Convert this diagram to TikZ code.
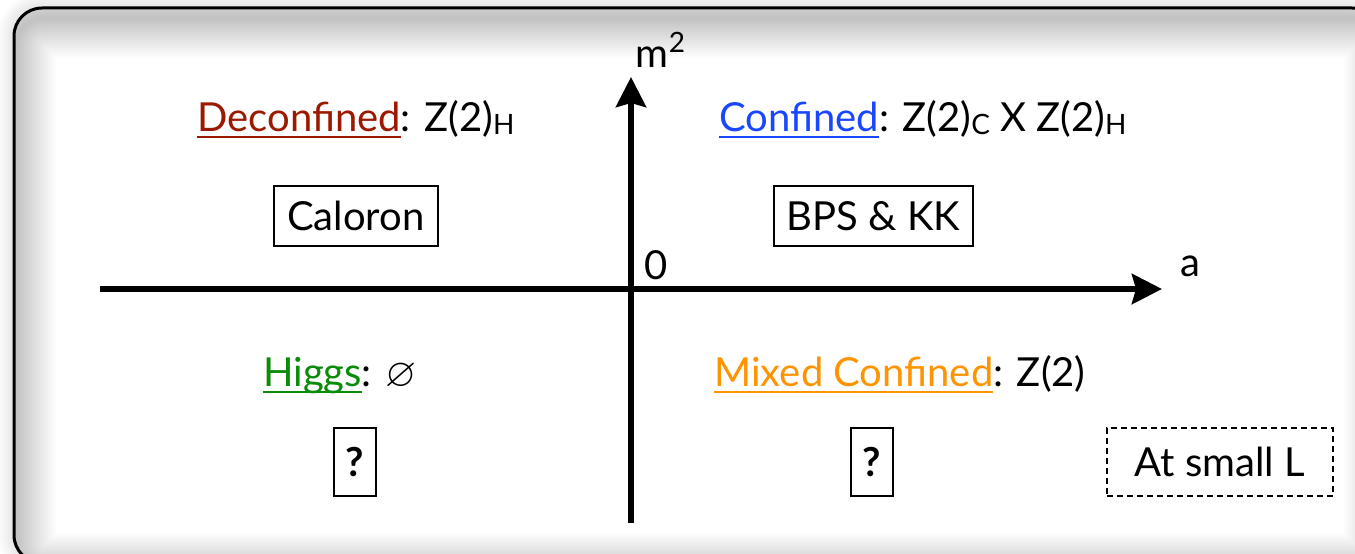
\documentclass[tikz,border=0pt]{standalone}
\usepackage{amssymb}
\usepackage{fontspec}
\setmainfont{Lato}
\usetikzlibrary{arrows.meta}

\definecolor{decred}{RGB}{155,25,0}
\definecolor{confblue}{RGB}{25,70,255}
\definecolor{higgsgreen}{RGB}{10,140,10}
\definecolor{mixorange}{RGB}{255,148,0}

% coloured, underlined phase name
\newsavebox{\phasebox}
\newcommand{\phase}[2]{\textcolor{#1}{\sbox{\phasebox}{#2}\rlap{\rule[-3.5pt]{\wd\phasebox}{1.2pt}}\usebox{\phasebox}}}
% lowered small index
\newcommand{\idx}[1]{\raisebox{-1.5pt}{\fontsize{14}{16}\selectfont #1}}

\begin{document}
\begin{tikzpicture}[x=0.5pt,y=0.5pt,
    font=\fontsize{20}{24}\selectfont,
    axis/.style = {line width=3pt,-{Stealth[length=15pt,width=15pt,inset=2pt]}},
    box/.style = {draw,line width=1pt,inner sep=0pt,minimum height=30pt},
    qbox/.style = {draw,line width=1pt,inner sep=0pt,minimum width=21pt,minimum height=34pt,font=\fontsize{20}{24}\selectfont\bfseries},
    label/.style = {anchor=base}]
    \useasboundingbox (0,0) rectangle (1355,553);

    % frame: outer shadow, inner shadow, border
    \foreach \i in {1,...,8}
        \draw[line width=2*\i pt, black, opacity=0.012, rounded corners=14pt] (14,-10) rectangle (1380,545);
    \fill[white, rounded corners=14pt] (14,-10) rectangle (1380,545);
    \begin{scope}
        \clip[rounded corners=14pt] (14,-10) rectangle (1380,545);
        \foreach \i in {1,...,20}
            \draw[line width=2*\i pt, black, opacity=0.012, rounded corners=14pt] (16,-20) rectangle (1384,535);
    \end{scope}
    \draw[line width=1.5pt, rounded corners=14pt] (14,-10) rectangle (1380,545);

    % axes
    \coordinate (west) at (100,264);
    \coordinate (east) at (1162,264);
    \coordinate (south) at (631,30);
    \coordinate (north) at (631,476);
    \draw[axis] (west) -- (east);
    \draw[axis] (south) -- (north);

    \node (mlabel) at (661,503) {m\textsuperscript{2}};
    \node (zero) at (656,288) {0};
    \node (alabel) at (1190,287) {a};

    % phases
    \node[label] (deconf) at (356,422) {\phase{decred}{Deconfined}: Z(2)\idx{H}};
    \node[label] (conf) at (923,422) {\phase{confblue}{Confined}: Z(2)\idx{C} X Z(2)\idx{H}};
    \node[label] (higgs) at (340,167) {\phase{higgsgreen}{Higgs}: $\varnothing$};
    \node[label] (mixed) at (900,167) {\phase{mixorange}{Mixed Confined}: Z(2)};

    % objects
    \node[box,minimum width=82pt] (caloron) at (356,337) {Caloron};
    \node[box,minimum width=99.5pt] (bpskk) at (873.5,337) {BPS \& KK};
    \node[qbox] (qleft) at (355,91) {?};
    \node[qbox] (qright) at (872,91) {?};
    \node[box,dashed,dash pattern=on 3pt off 2pt,minimum width=113pt,minimum height=34pt] (smallL) at (1220,91) {At small L};
\end{tikzpicture}
\end{document}
